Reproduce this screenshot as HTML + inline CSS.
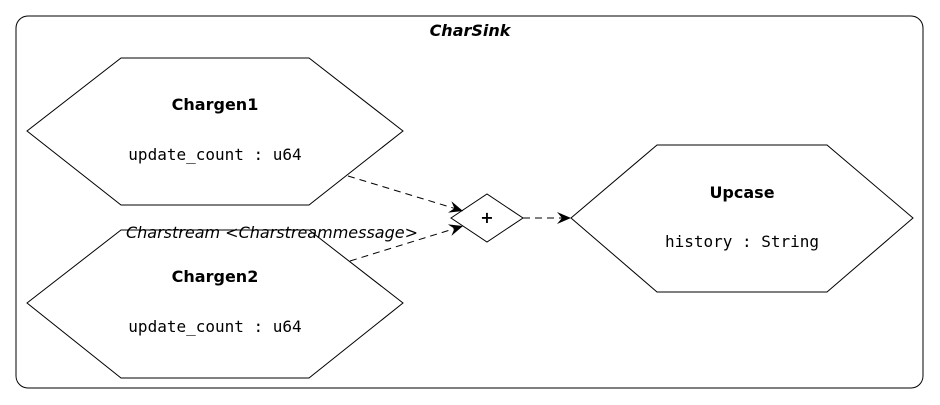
<!DOCTYPE html>
<html><head><meta charset="utf-8"><style>
html,body{margin:0;padding:0;background:#fff;}
svg{display:block;font-family:"DejaVu Sans","Liberation Sans",sans-serif;}
</style></head><body>
<svg width="940" height="405" viewBox="0 0 940 405" xmlns="http://www.w3.org/2000/svg">
<defs>
<marker id="a" markerWidth="16" markerHeight="12" refX="14" refY="6" orient="auto" markerUnits="userSpaceOnUse">
<path d="M0,0 L14,6 L0,12 L5,6 Z" fill="#000"/>
</marker>
</defs>
<rect x="16" y="16" width="907" height="372" rx="12" ry="12" fill="#fff" stroke="#000" stroke-width="1"/>
<text x="470" y="36" text-anchor="middle" font-size="16" font-weight="bold" font-style="italic">CharSink</text>
<polygon points="27,131 121,58 309,58 403,131 309,205 121,205" fill="#fff" stroke="#000"/>
<text x="215" y="110" text-anchor="middle" font-size="16" font-weight="bold">Chargen1</text>
<text x="215" y="160" text-anchor="middle" font-size="16" font-family="DejaVu Sans Mono,Liberation Mono,monospace">update_count : u64</text>
<polygon points="27,303 121,230 309,230 403,303 309,378 121,378" fill="#fff" stroke="#000"/>
<text x="215" y="282" text-anchor="middle" font-size="16" font-weight="bold">Chargen2</text>
<text x="215" y="332" text-anchor="middle" font-size="16" font-family="DejaVu Sans Mono,Liberation Mono,monospace">update_count : u64</text>
<polygon points="571,218 657,145 827,145 913,218 827,292 657,292" fill="#fff" stroke="#000"/>
<text x="742" y="198" text-anchor="middle" font-size="16" font-weight="bold">Upcase</text>
<text x="742" y="247" text-anchor="middle" font-size="16" font-family="DejaVu Sans Mono,Liberation Mono,monospace">history : String</text>
<polygon points="451,218 487,194 523,218 487,242" fill="#fff" stroke="#000"/>
<text x="487" y="223" text-anchor="middle" font-size="16" font-weight="bold">+</text>
<line x1="348" y1="176" x2="463" y2="211" stroke="#000" stroke-dasharray="7,5" marker-end="url(#a)"/>
<line x1="350" y1="261" x2="463" y2="226" stroke="#000" stroke-dasharray="7,5" marker-end="url(#a)"/>
<line x1="523" y1="218" x2="571" y2="218" stroke="#000" stroke-dasharray="7,5" marker-end="url(#a)"/>
<text x="272" y="238" text-anchor="middle" font-size="16" font-style="italic">Charstream &lt;Charstreammessage&gt;</text>
</svg>
</body></html>
